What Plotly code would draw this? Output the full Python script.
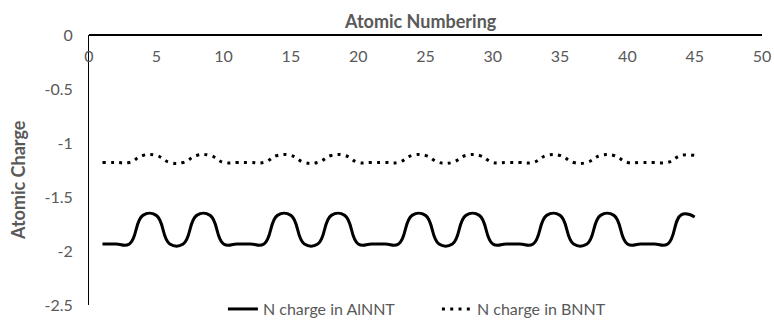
import plotly.graph_objects as go

# Data
atomic_number = list(range(1, 46))
n_charge_alnnt = [
    -1.935, -1.935, -1.935, -1.67, -1.67, -1.935, -1.935, -1.67, -1.67, -1.935,
    -1.935, -1.935, -1.935, -1.67, -1.67, -1.935, -1.935, -1.67, -1.67, -1.935,
    -1.935, -1.935, -1.935, -1.67, -1.67, -1.935, -1.935, -1.67, -1.67, -1.935,
    -1.935, -1.935, -1.935, -1.67, -1.67, -1.935, -1.935, -1.67, -1.67, -1.935,
    -1.935, -1.935, -1.935, -1.665, -1.685,
]
n_charge_bnnt = [
    -1.18, -1.18, -1.18, -1.115, -1.115, -1.18, -1.18, -1.115, -1.115, -1.18,
    -1.18, -1.18, -1.18, -1.115, -1.115, -1.18, -1.18, -1.115, -1.115, -1.18,
    -1.18, -1.18, -1.18, -1.115, -1.115, -1.18, -1.18, -1.115, -1.115, -1.18,
    -1.18, -1.18, -1.18, -1.115, -1.115, -1.18, -1.18, -1.115, -1.115, -1.18,
    -1.18, -1.18, -1.18, -1.115, -1.115,
]
x_ticks = [0, 5, 10, 15, 20, 25, 30, 35, 40, 45, 50]
y_ticks = [0, -0.5, -1, -1.5, -2, -2.5]

FONT = "Lato"
GRAY = "#595959"

fig = go.Figure()
fig.add_trace(go.Scatter(
    x=atomic_number, y=n_charge_alnnt, mode="lines", name="N charge in AlNNT",
    line=dict(color="black", width=3, shape="spline", smoothing=1.3),
))
fig.add_trace(go.Scatter(
    x=atomic_number, y=n_charge_bnnt, mode="lines", name="N charge in BNNT",
    line=dict(color="black", width=3, shape="spline", smoothing=1.3, dash="3px,5.3px"),
))

fig.update_layout(
    width=774, height=322,
    margin=dict(l=89, r=12, t=35, b=17, autoexpand=False),
    paper_bgcolor="white", plot_bgcolor="white",
    font=dict(family=FONT, size=16, color=GRAY),
    showlegend=True,
    legend=dict(orientation="h", x=0.199, xanchor="left", y=-0.015, yanchor="middle",
                entrywidth=169, font=dict(family=FONT, size=16, color=GRAY),
                bgcolor="rgba(0,0,0,0)"),
    xaxis=dict(
        range=[0, 50], tickvals=x_ticks, ticktext=[str(v) for v in x_ticks],
        anchor="free", position=1, side="bottom", ticks="", ticklabelstandoff=7,
        showline=True, linecolor="black", linewidth=2, showgrid=False, zeroline=False,
        automargin=False,
        tickfont=dict(family=FONT, size=16, color=GRAY),
    ),
    yaxis=dict(
        range=[-2.5, 0], tickvals=y_ticks, ticktext=[str(v) for v in y_ticks],
        ticks="", ticklabelstandoff=12, automargin=False,
        showline=True, linecolor="black", linewidth=1, showgrid=False, zeroline=False,
        tickfont=dict(family=FONT, size=16, color=GRAY),
    ),
    annotations=[
        dict(text="<b>Atomic Numbering</b>", xref="paper", yref="paper",
             x=0.4926, y=1.052, xanchor="center", yanchor="middle", showarrow=False,
             font=dict(family=FONT, size=18, color=GRAY)),
        dict(text="<b>Atomic Charge</b>", xref="paper", yref="paper", textangle=-90,
             x=-0.1055, y=0.463, xanchor="center", yanchor="middle", showarrow=False,
             font=dict(family=FONT, size=18, color=GRAY)),
    ],
)

fig.write_html("out.html", config={"displayModeBar": False},
               post_script="document.body.style.margin='0px';")
